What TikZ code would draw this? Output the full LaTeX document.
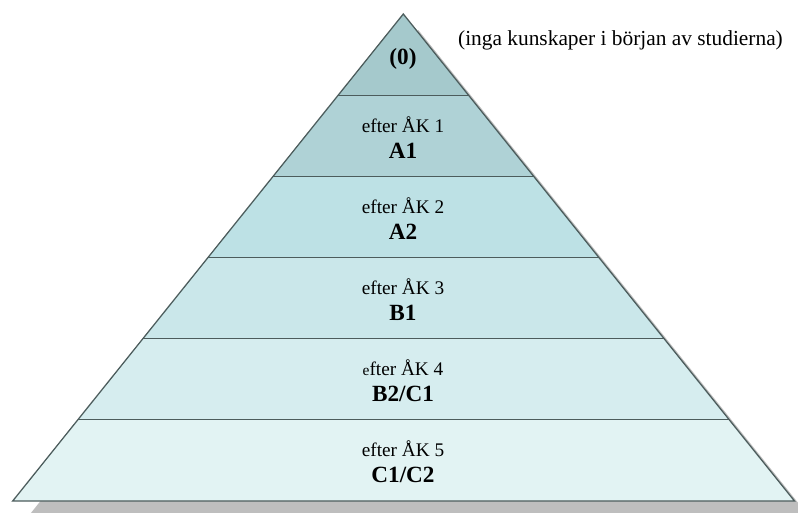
\documentclass[tikz,border=0pt]{standalone}
\usepackage{fontspec}
\setmainfont{Liberation Serif}
\usetikzlibrary{calc}
\definecolor{edgecol}{HTML}{4C5C5C}
\definecolor{shadowcol}{HTML}{BEBEBE}
\definecolor{band0}{HTML}{A5C9CC}
\definecolor{band1}{HTML}{AFD2D6}
\definecolor{band2}{HTML}{BDE1E5}
\definecolor{band3}{HTML}{CAE7EA}
\definecolor{band4}{HTML}{D6EDEF}
\definecolor{band5}{HTML}{E2F3F3}
\tikzset{
  stage/.style={font=\fontsize{13.7}{15}\selectfont, inner sep=0pt, anchor=center},
  level/.style={font=\fontsize{16.5}{18}\selectfont\bfseries, inner sep=0pt, anchor=center},
  divider/.style={draw=edgecol, line width=0.9pt},
}
\begin{document}
\begin{tikzpicture}[x=0.025cm, y=-0.025cm]
  \useasboundingbox (0,0) rectangle (798,513);
  % corners of the pyramid
  \coordinate (apex) at (403.3,14);
  \coordinate (bl) at (12.7,501);
  \coordinate (br) at (794.5,501);
  % drop shadow
  \fill[shadowcol] ([shift={(15,16)}]apex) -- ([shift={(15,16)}]bl) -- ([shift={(15,16)}]br) -- cycle;
  % points where the band borders meet the sides
  \foreach \k in {1,...,5} {
    \coordinate (l\k) at ($(apex)!\k/6!(bl)$);
    \coordinate (r\k) at ($(apex)!\k/6!(br)$);
  }
  % bands, top to bottom
  \fill[band0] (apex) -- (r1) -- (l1) -- cycle;
  \fill[band1] (l1) -- (r1) -- (r2) -- (l2) -- cycle;
  \fill[band2] (l2) -- (r2) -- (r3) -- (l3) -- cycle;
  \fill[band3] (l3) -- (r3) -- (r4) -- (l4) -- cycle;
  \fill[band4] (l4) -- (r4) -- (r5) -- (l5) -- cycle;
  \fill[band5] (l5) -- (r5) -- (br) -- (bl) -- cycle;
  % band borders and outline
  \foreach \k in {1,...,5} { \draw[divider] (l\k) -- (r\k); }
  \draw[divider, line join=miter] (apex) -- (br) -- (bl) -- cycle;
  % labels
  \node[level] (z0) at (403,59) {(0)};
  \node[stage] (s1) at (403,125) {efter ÅK 1};
  \node[level] (a1) at (403,151) {A1};
  \node[stage] (s2) at (403,206) {efter ÅK 2};
  \node[level] (a2) at (403,232) {A2};
  \node[stage] (s3) at (403,287) {efter ÅK 3};
  \node[level] (b1) at (403,313) {B1};
  \node[stage] (s4) at (403,368) {{\fontsize{11}{12}\selectfont e}fter ÅK 4};
  \node[level] (b2) at (403,394) {B2/C1};
  \node[stage] (s5) at (403,449) {efter ÅK 5};
  \node[level] (c1) at (403,475) {C1/C2};
  \node[font=\fontsize{15.2}{17}\selectfont, inner sep=0pt, anchor=center] (note) at (620.5,40) {(inga kunskaper i början av studierna)};
\end{tikzpicture}
\end{document}
